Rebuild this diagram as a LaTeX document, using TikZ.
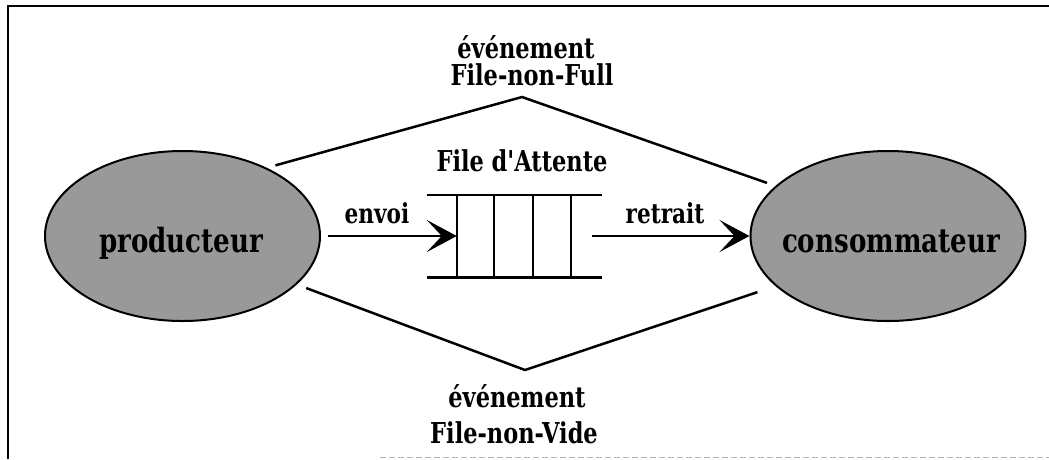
\documentclass[tikz,border=0pt]{standalone}
\usepackage{fontspec}
\setmainfont{DejaVu Serif Condensed}[BoldFont={DejaVu Serif Condensed Bold}]
\usetikzlibrary{shapes.geometric,arrows.meta,calc}
\newcommand{\tallt}[1]{\scalebox{1}[1.15]{#1}}
\begin{document}
\begin{tikzpicture}[x=1pt,y=-1pt,
  lbl/.style={font=\fontsize{25}{30}\selectfont\bfseries, inner sep=0pt, anchor=base},
  small/.style={font=\fontsize{24}{28}\selectfont\bfseries, inner sep=0pt, anchor=base},
  big/.style={font=\fontsize{29}{34}\selectfont\bfseries, inner sep=0pt, anchor=base},
  proc/.style={ellipse, draw, line width=2pt, fill=black!40, inner sep=0pt,
               minimum width=275pt, minimum height=170pt},
  edge/.style={line width=2.5pt},
  arr/.style={line width=2.2pt, -{Stealth[length=30pt,width=32pt,inset=15pt]}},
  qline/.style={line width=2.6pt},
  qbar/.style={line width=1.9pt}]
\useasboundingbox (0,0) rectangle (1049,459);
% frame
\draw[line width=2pt] (7.5,459) -- (7.5,5.5) -- (1049,5.5);
\draw[black!30, line width=1.2pt, dash pattern=on 6pt off 3pt] (380,457.5) -- (1049,457.5);
% processes
\node[proc] (prod) at (182.5,236) {};
\node[proc] (cons) at (888,236) {};
\node[big] (tprod) at (181,252) {\tallt{producteur}};
\node[big] (tcons) at (891,252) {\tallt{consommateur}};
% queue
\node[inner sep=0pt, minimum width=114pt, minimum height=82pt] (q) at (514,236) {};
\draw[qline] ($(q.north west)+(-30,0)$) -- ($(q.north east)+(31,0)$);
\draw[qline] ($(q.south west)+(-30,0)$) -- ($(q.south east)+(31,0)$);
\draw[qbar] (q.north west) -- (q.south west);
\draw[qbar] ($(q.north west)+(37,0)$) -- ($(q.south west)+(37,0)$);
\draw[qbar] ($(q.north west)+(76,0)$) -- ($(q.south west)+(76,0)$);
\draw[qbar] (q.north east) -- (q.south east);
\node[lbl] (tq) at (522,171) {\tallt{File d\textquotesingle Attente}};
% arrows
\draw[arr, shorten <=7pt] (prod) -- (q.west);
\draw[arr, shorten <=21pt] (q.east) -- (cons);
\node[small] (tenv) at (377,223) {\tallt{envoi}};
\node[small] (tret) at (665,223) {\tallt{retrait}};
% events
\coordinate (tf) at (522,97);
\coordinate (bf) at (525,370);
\draw[edge, shorten <=9pt, shorten >=9pt] (prod.39) -- (tf) -- (cons.156);
\draw[edge, shorten <=10pt, shorten >=19pt] (prod.-23.6) -- (bf) -- (cons.204.9);
\node[lbl] (e1) at (526,58) {\tallt{événement}};
\node[lbl] (e2) at (532,85) {\tallt{File-non-Full}};
\node[lbl] (e3) at (517,407) {\tallt{événement}};
\node[lbl] (e4) at (514,443) {\tallt{File-non-Vide}};
\end{tikzpicture}
\end{document}
